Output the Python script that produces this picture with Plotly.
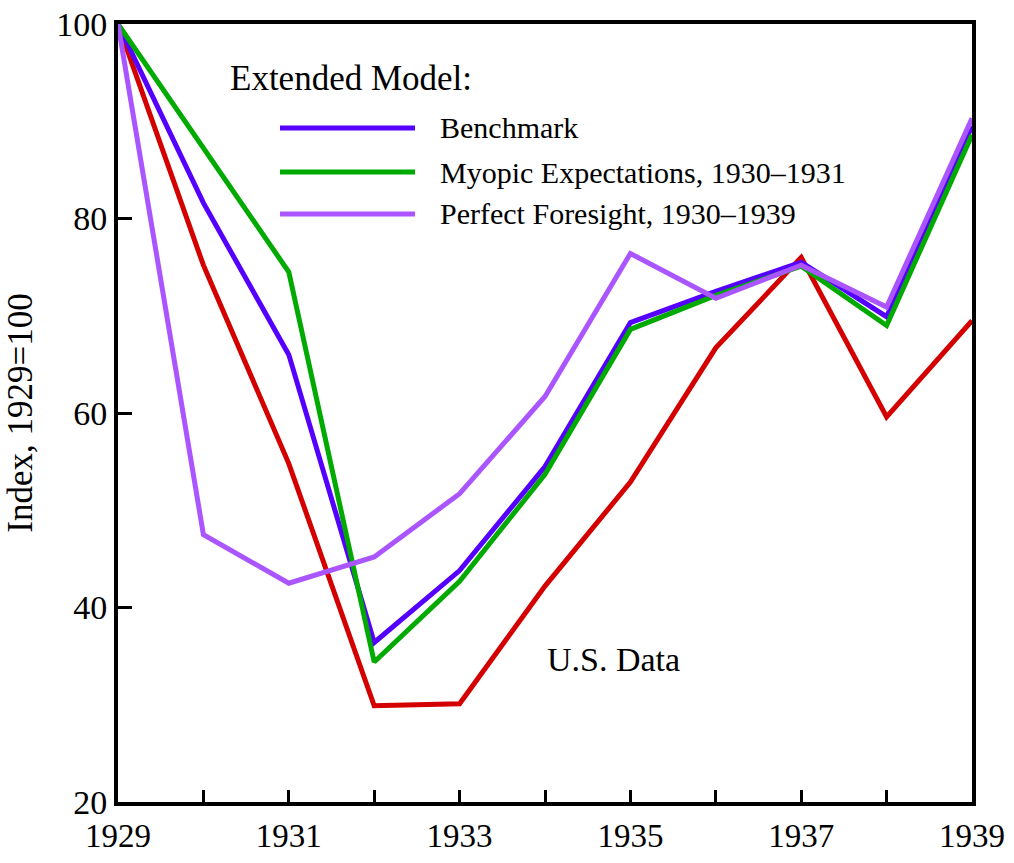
import plotly.graph_objects as go

years = list(range(1929, 1940))
us_data = [100, 75.2, 54.8, 29.9, 30.1, 42.2, 52.9, 66.7, 76.0, 59.6, 69.5]
benchmark = [100, 81.6, 66.0, 36.4, 43.8, 54.5, 69.3, 72.5, 75.5, 69.9, 89.5]
myopic = [100, 87.2, 74.5, 34.4, 42.7, 53.7, 68.6, 72.1, 75.1, 69.0, 88.6]
foresight = [100, 47.5, 42.5, 45.2, 51.7, 61.7, 76.4, 71.8, 75.2, 70.9, 90.3]

names = ["U.S. Data", "Benchmark", "Myopic Expectations, 1930\u20131931", "Perfect Foresight, 1930\u20131939"]
colors = ["#d40000", "#5500ff", "#00aa00", "#aa55ff"]
series = [us_data, benchmark, myopic, foresight]

tick_text = [str(y) if (y - 1929) % 2 == 0 else "" for y in years]

FONT = "Liberation Serif, Times New Roman, serif"

# page body margin removed via post_script, so figure sits at (0, 0)
L, R, T, B = 118, 972, 24, 802
W, H = 1012, 860

fig = go.Figure()
for name, col, vals in zip(names, colors, series):
    fig.add_trace(go.Scatter(x=years, y=vals, mode="lines", name=name,
                             line=dict(color=col, width=5), showlegend=False))

fig.update_layout(
    width=W, height=H,
    margin=dict(l=L, r=W - R, t=T, b=H - B),
    plot_bgcolor="white", paper_bgcolor="white",
    font=dict(family=FONT, size=33, color="black"),
)
fig.update_xaxes(range=[1929, 1939], tickmode="array", tickvals=years, ticktext=tick_text,
                 ticks="inside", ticklen=12, tickwidth=3, tickcolor="black",
                 showline=True, linewidth=4, linecolor="black", mirror=True,
                 showgrid=False, zeroline=False, automargin=False,
                 ticklabeloverflow="allow", ticklabelstandoff=1,
                 tickfont=dict(size=33, family=FONT))
fig.update_yaxes(range=[20, 100], tickmode="array", tickvals=[20, 40, 60, 80, 100],
                 ticks="inside", ticklen=14, tickwidth=3, tickcolor="black",
                 showline=True, linewidth=4, linecolor="black", mirror=True,
                 showgrid=False, zeroline=False, automargin=False,
                 ticklabeloverflow="allow",
                 tickfont=dict(size=34, family=FONT),
                 title=dict(text="Index, 1929=100", font=dict(size=35, family=FONT), standoff=14))

def pxx(px):
    return (px - L) / (R - L)

def pxy(py):
    return (B - py) / (B - T)

fig.add_annotation(x=pxx(228), y=pxy(78), xref="paper", yref="paper",
                   text="Extended Model:", showarrow=False, xanchor="left", yanchor="middle",
                   font=dict(size=35, family=FONT))
legend_rows = [(128, 1), (172, 2), (214, 3)]
for py, idx in legend_rows:
    fig.add_shape(type="line", xref="paper", yref="paper",
                  x0=pxx(280), x1=pxx(415), y0=pxy(py), y1=pxy(py),
                  line=dict(color=colors[idx], width=5))
    fig.add_annotation(x=pxx(438), y=pxy(py), xref="paper", yref="paper",
                       text=names[idx], showarrow=False, xanchor="left", yanchor="middle",
                       font=dict(size=30, family=FONT))

fig.add_annotation(x=pxx(613), y=pxy(659), xref="paper", yref="paper",
                   text="U.S. Data", showarrow=False, xanchor="center", yanchor="middle",
                   font=dict(size=34, family=FONT))

fig.write_html("out.html",
               config={"displayModeBar": False},
               post_script="document.body.style.margin='0';document.body.style.overflow='hidden';")
